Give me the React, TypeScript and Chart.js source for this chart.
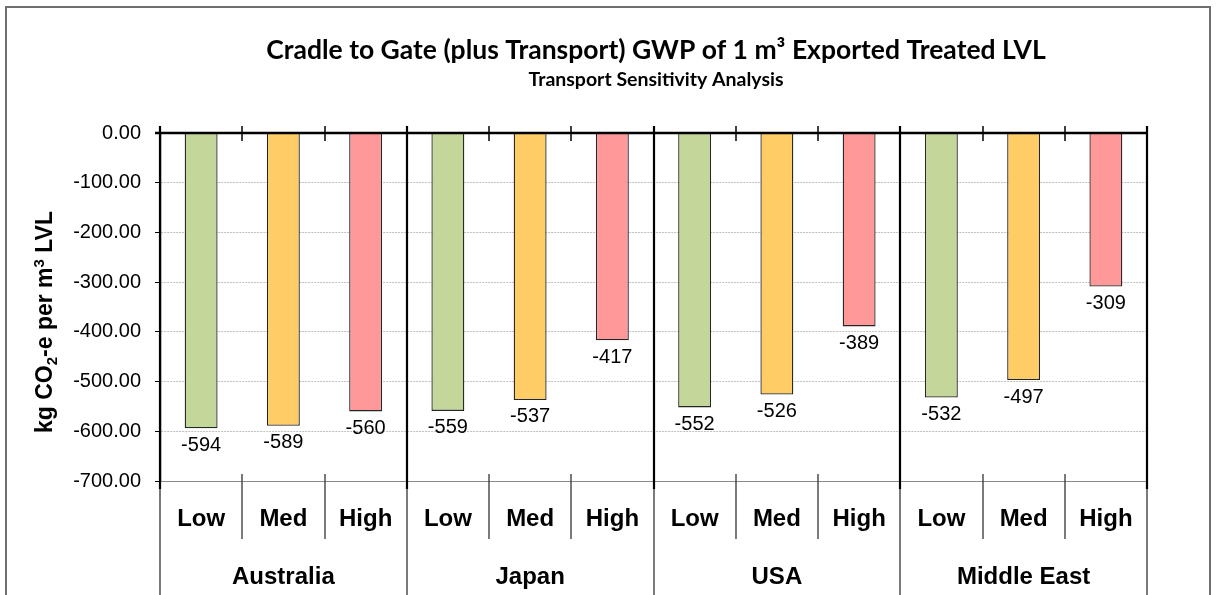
import React, { useEffect, useRef } from 'react';
import { Chart, registerables } from 'chart.js';

Chart.register(...registerables);

const groups = ['Australia', 'Japan', 'USA', 'Middle East'];
const levels = ['Low', 'Med', 'High'];
const lowValues = [-594, -559, -552, -532];
const medValues = [-589, -537, -526, -497];
const highValues = [-560, -417, -389, -309];
const levelColors = ['#C4D79B', '#FFCC66', '#FF9999'];
const yMin = -700;
const yMax = 0;
const yStep = 100;
const titleText = 'Cradle to Gate (plus Transport) GWP of 1 m³ Exported Treated LVL';
const subtitleText = 'Transport Sensitivity Analysis';

const W = 1217;
const H = 595;

const labels = groups.flatMap(() => levels);
const values = groups.flatMap((_, i) => [lowValues[i], medValues[i], highValues[i]]);
const colors = groups.flatMap(() => levelColors);

const SANS = "'Liberation Sans', Arial, sans-serif";

const overlay = {
  id: 'overlay',
  afterDraw(chart: any) {
    const { ctx, chartArea: a, scales } = chart;
    const x = scales.x;
    const y = scales.y;
    ctx.save();

    // outer frame
    ctx.strokeStyle = '#6f6f6f';
    ctx.lineWidth = 2;
    ctx.strokeRect(6, 7, 1204, 640);

    // titles
    ctx.fillStyle = '#000';
    ctx.textAlign = 'center';
    ctx.textBaseline = 'alphabetic';
    const cx = 656;
    ctx.font = 'bold 26.5px Lato';
    ctx.fillText(titleText, cx, 58.5);
    ctx.font = 'bold 19.5px Lato';
    ctx.fillText(subtitleText, cx, 86);

    // y axis title with sub/superscript
    ctx.save();
    ctx.translate(52, 322);
    ctx.rotate(-Math.PI / 2);
    const parts: [string, number, number][] = [
      ['kg CO', 23, 0],
      ['2', 15, 5],
      ['-e per m', 23, 0],
      ['3', 15, -8],
      [' LVL', 23, 0],
    ];
    let total = 0;
    for (const [t, s] of parts) {
      ctx.font = `bold ${s}px ${SANS}`;
      total += ctx.measureText(t).width;
    }
    let px = -total / 2;
    ctx.textAlign = 'left';
    ctx.textBaseline = 'alphabetic';
    for (const [t, s, dy] of parts) {
      ctx.font = `bold ${s}px ${SANS}`;
      ctx.fillText(t, px, dy);
      px += ctx.measureText(t).width;
    }
    ctx.restore();

    const n = labels.length;
    const step = x.getPixelForValue(1) - x.getPixelForValue(0);
    const y0 = y.getPixelForValue(0);

    // category boundaries
    for (let i = 0; i <= n; i++) {
      const bx = Math.round(x.getPixelForValue(i) - step / 2);
      if (i % levels.length === 0) {
        ctx.strokeStyle = '#000';
        ctx.lineWidth = 2.2;
        ctx.beginPath();
        ctx.moveTo(bx, y0 - 7);
        ctx.lineTo(bx, a.bottom + 8);
        ctx.stroke();
        ctx.lineWidth = 1.2;
        ctx.strokeStyle = '#222';
        ctx.beginPath();
        ctx.moveTo(bx, a.bottom + 8);
        ctx.lineTo(bx, H);
        ctx.stroke();
      } else {
        ctx.strokeStyle = '#000';
        ctx.lineWidth = 1.5;
        ctx.beginPath();
        ctx.moveTo(bx, y0 - 7);
        ctx.lineTo(bx, y0 + 8);
        ctx.stroke();
        ctx.strokeStyle = '#333';
        ctx.lineWidth = 1.3;
        ctx.beginPath();
        ctx.moveTo(bx, a.bottom - 7);
        ctx.lineTo(bx, a.bottom + 58);
        ctx.stroke();
      }
    }

    // zero axis line
    ctx.strokeStyle = '#000';
    ctx.lineWidth = 2.5;
    ctx.beginPath();
    ctx.moveTo(a.left - 5, y0);
    ctx.lineTo(a.right + 1, y0);
    ctx.stroke();

    // data labels
    const meta = chart.getDatasetMeta(0);
    ctx.font = `20px ${SANS}`;
    ctx.textAlign = 'center';
    ctx.textBaseline = 'middle';
    ctx.fillStyle = '#000';
    meta.data.forEach((el: any, i: number) => {
      ctx.fillText(String(values[i]), el.x, el.y + 17);
    });

    // group labels
    ctx.font = `bold 24px ${SANS}`;
    groups.forEach((g, gi) => {
      const start = gi * levels.length;
      const gx = (x.getPixelForValue(start) + x.getPixelForValue(start + levels.length - 1)) / 2;
      ctx.fillText(g, gx, 577);
    });

    ctx.restore();
  },
};

export default function App() {
  const ref = useRef<HTMLCanvasElement>(null);
  useEffect(() => {
    document.body.style.margin = '0';
    const chart = new Chart(ref.current as HTMLCanvasElement, {
      type: 'bar',
      data: {
        labels,
        datasets: [
          {
            data: values,
            backgroundColor: colors,
            borderColor: '#262626',
            borderWidth: 1.3,
            barPercentage: 0.4,
            categoryPercentage: 1,
          },
        ],
      },
      options: {
        responsive: false,
        animation: false,
        layout: { padding: { left: 0, right: W - 1147, top: 133, bottom: 0 } },
        plugins: { legend: { display: false }, tooltip: { enabled: false }, title: { display: false } },
        scales: {
          x: {
            position: 'bottom',
            grid: { display: false, drawTicks: false },
            border: { display: false },
            ticks: {
              color: '#000',
              font: { family: SANS, size: 24, weight: 'bold' },
              padding: 24,
              maxRotation: 0,
              autoSkip: false,
            },
            afterFit: (s: any) => {
              s.height = H - 481;
            },
          },
          y: {
            min: yMin,
            max: yMax,
            grid: {
              color: (c: any) => {
                const v = c.tick ? c.tick.value : null;
                if (v === 0) return 'rgba(0,0,0,0)';
                if (v === yMin) return '#8a8a8a';
                return '#c0c0c0';
              },
              lineWidth: 1,
              tickColor: '#000',
              tickLength: 5,
            },
            border: {
              display: true,
              color: '#000',
              width: 2.2,
              dash: (c: any) => {
                const v = c.tick ? c.tick.value : null;
                if (v === yMin || v === 0) return [];
                return [2, 1];
              },
            },
            ticks: {
              stepSize: yStep,
              color: '#000',
              font: { family: SANS, size: 20 },
              padding: 14,
              callback: (v: any) => Number(v).toFixed(2),
            },
            afterFit: (s: any) => {
              s.width = 160;
            },
          },
        },
      },
      plugins: [overlay],
    });
    return () => chart.destroy();
  }, []);
  return (
    <div style={{ width: W, height: H }}>
      <canvas ref={ref} width={W} height={H} style={{ display: 'block' }} />
    </div>
  );
}
